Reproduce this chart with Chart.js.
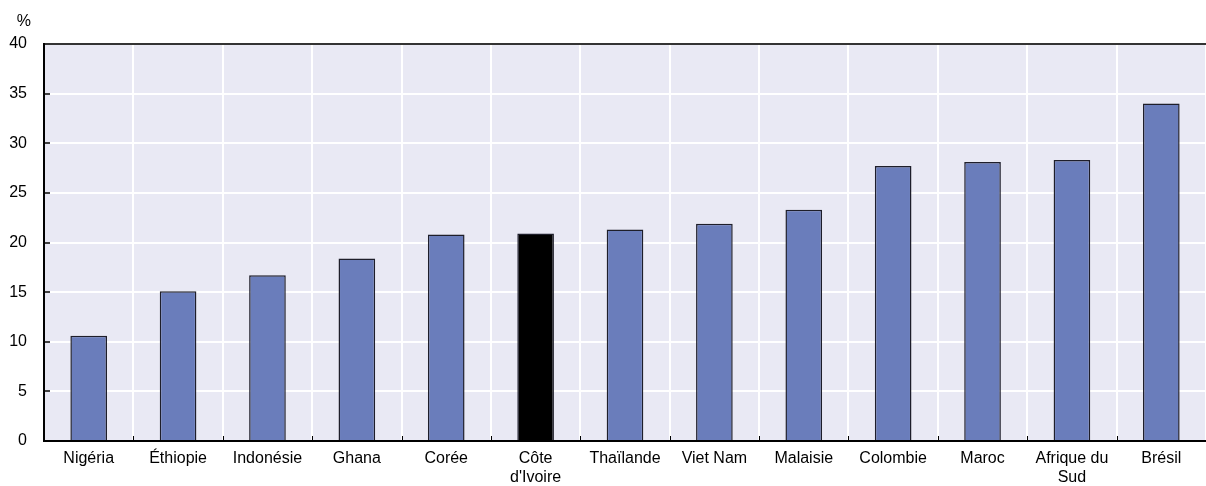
<!DOCTYPE html>
<html>
<head>
<meta charset="utf-8">
<script src="https://cdn.jsdelivr.net/npm/chart.js@4.4.1/dist/chart.umd.min.js"></script>
<style>
html,body{margin:0;padding:0;background:#fff;}
#wrap{width:1206px;height:486px;position:relative;}
</style>
</head>
<body>
<div id="wrap"><canvas id="c" width="1206" height="486"></canvas></div>
<script>
const categories = ["Nigéria", "Éthiopie", "Indonésie", "Ghana", "Corée", ["Côte", "d'Ivoire"], "Thaïlande", "Viet Nam", "Malaisie", "Colombie", "Maroc", ["Afrique du", "Sud"], "Brésil"];
const values = [10.6, 15.1, 16.7, 18.4, 20.8, 20.9, 21.3, 21.9, 23.3, 27.7, 28.1, 28.3, 34.0];
const highlightIndex = 5;
const yTicks = [0, 5, 10, 15, 20, 25, 30, 35, 40];
const unitLabel = "%";

const FONT = "'Liberation Sans', Arial, sans-serif";
const BLUE = "#6a7dbb";

const innerTicks = {
  id: 'innerTicks',
  afterDatasetsDraw(chart) {
    const {ctx, chartArea, scales} = chart;
    const x = scales.x, y = scales.y;
    ctx.save();
    ctx.strokeStyle = '#000';
    ctx.lineWidth = 1;
    for (let i = 1; i < categories.length; i++) {
      const px = Math.round((x.getPixelForValue(i - 1) + x.getPixelForValue(i)) / 2) + 0.5;
      ctx.beginPath();
      ctx.moveTo(px, chartArea.bottom);
      ctx.lineTo(px, chartArea.bottom - 5);
      ctx.stroke();
    }
    ctx.lineWidth = 1.5;
    yTicks.forEach(v => {
      if (v === 0 || v === 40) return;
      const py = Math.round(y.getPixelForValue(v));
      ctx.beginPath();
      ctx.moveTo(chartArea.left, py);
      ctx.lineTo(chartArea.left + 6, py);
      ctx.stroke();
    });
    ctx.strokeStyle = '#333';
    ctx.lineWidth = 2;
    ctx.beginPath();
    ctx.moveTo(chartArea.left, chartArea.top);
    ctx.lineTo(chartArea.right, chartArea.top);
    ctx.stroke();
    ctx.strokeStyle = '#000';
    ctx.lineWidth = 2;
    ctx.beginPath();
    ctx.moveTo(chartArea.left, chartArea.top - 1);
    ctx.lineTo(chartArea.left, chartArea.bottom);
    ctx.lineTo(chartArea.right, chartArea.bottom);
    ctx.stroke();
    ctx.fillStyle = '#000';
    ctx.font = '16px ' + FONT;
    ctx.textAlign = 'right';
    ctx.textBaseline = 'alphabetic';
    ctx.fillText(unitLabel, 31, 26);
    ctx.restore();
  }
};

const bgPlugin = {
  id: 'bg',
  beforeDraw(chart) {
    const {ctx, chartArea} = chart;
    ctx.save();
    ctx.fillStyle = '#e9e9f4';
    ctx.fillRect(chartArea.left, chartArea.top, chartArea.right - chartArea.left, chartArea.bottom - chartArea.top);
    ctx.restore();
  }
};

new Chart(document.getElementById('c'), {
  type: 'bar',
  data: {
    labels: categories,
    datasets: [{
      data: values,
      backgroundColor: values.map((v, i) => i === highlightIndex ? '#000000' : BLUE),
      borderColor: '#1e1e2a',
      borderWidth: 1.5,
      barPercentage: 0.41,
      categoryPercentage: 1.0
    }]
  },
  options: {
    responsive: false,
    animation: false,
    devicePixelRatio: 1,
    layout: { padding: { top: 44, right: 0, left: 0, bottom: 0 } },
    plugins: { legend: { display: false }, tooltip: { enabled: false }, title: { display: false } },
    scales: {
      x: {
        offset: true,
        grid: { offset: true, color: '#ffffff', lineWidth: 2, drawTicks: false },
        border: { display: false },
        ticks: { color: '#000', font: { family: FONT, size: 16, lineHeight: 1.2 }, padding: 8, maxRotation: 0, autoSkip: false },
        afterFit(s) { s.height = 45; }
      },
      y: {
        min: 0, max: 40,
        afterBuildTicks(s) { s.ticks = yTicks.map(v => ({ value: v })); },
        grid: { color: '#ffffff', lineWidth: 2, drawTicks: false },
        border: { display: false },
        ticks: { color: '#000', font: { family: FONT, size: 16 }, padding: 17 },
        afterFit(s) { s.width = 44; }
      }
    }
  },
  plugins: [bgPlugin, innerTicks]
});
</script>
</body>
</html>
